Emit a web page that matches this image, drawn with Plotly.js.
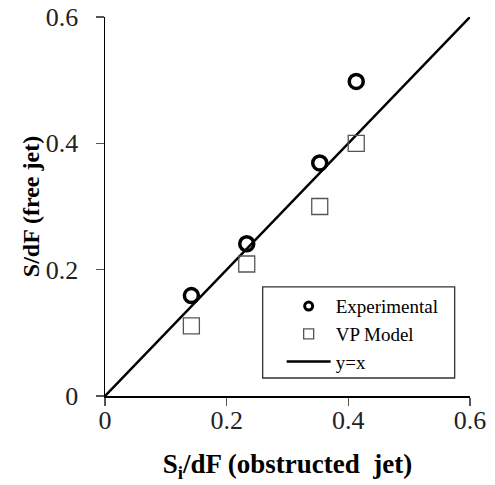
<!DOCTYPE html>
<html><head><meta charset="utf-8">
<script src="https://cdn.plot.ly/plotly-3.0.1.min.js"></script>
<style>body{margin:0;background:#fff}#chart{width:495px;height:485px}</style>
</head><body><div id="chart"></div>
<script>
const expX = [0.142, 0.233, 0.353, 0.413];
const expY = [0.159, 0.241, 0.369, 0.498];
const vpX = [0.142, 0.233, 0.353, 0.413];
const vpY = [0.111, 0.209, 0.300, 0.400];
const lineX = [0, 0.6];
const lineY = [0, 0.6];
const tickVals = [0, 0.2, 0.4, 0.6];
const tickText = ['0', '0.2', '0.4', '0.6'];

const serif = "'Liberation Serif', 'Times New Roman', serif";
const traces = [
  {x: lineX, y: lineY, mode: 'lines', name: 'y=x', type: 'scatter', showlegend: false,
   line: {color: '#000', width: 2.5}},
  {x: vpX, y: vpY, mode: 'markers', name: 'VP Model', type: 'scatter', showlegend: false,
   marker: {symbol: 'square-open', size: 16, color: '#555', line: {width: 1.3, color: '#555'}}},
  {x: expX, y: expY, mode: 'markers', name: 'Experimental', type: 'scatter', showlegend: false,
   marker: {symbol: 'circle-open', size: 14, color: '#000', line: {width: 3.5, color: '#000'}}},
  // legend entries (smaller symbols as in the reference legend)
  {x: [null], y: [null], mode: 'markers', name: 'Experimental', type: 'scatter', legendgroup: 'a',
   marker: {symbol: 'circle-open', size: 8, color: '#000', line: {width: 3, color: '#000'}}},
  {x: [null], y: [null], mode: 'markers', name: 'VP Model', type: 'scatter', legendgroup: 'b',
   marker: {symbol: 'square-open', size: 10, color: '#555', line: {width: 1.3, color: '#555'}}},
  {x: [null], y: [null], mode: 'lines', name: 'y=x', type: 'scatter', legendgroup: 'c',
   line: {color: '#000', width: 2.5}}
];
const layout = {
  width: 495, height: 485,
  margin: {l: 105, r: 25, t: 17, b: 89},
  paper_bgcolor: '#fff', plot_bgcolor: '#fff',
  font: {family: serif, color: '#000', size: 20},
  showlegend: true,
  legend: {x: 0.484, y: 0.287, xanchor: 'left', yanchor: 'top',
    bgcolor: 'rgba(0,0,0,0)', borderwidth: 0, itemwidth: 44,
    font: {family: serif, size: 19, color: '#000'},
    tracegroupgap: 10, traceorder: 'normal'},
  shapes: [{type: 'rect', xref: 'paper', yref: 'paper', x0: 0.432, x1: 0.958, y0: 0.0475, y1: 0.288,
    line: {color: '#333', width: 1.3}, fillcolor: 'rgba(0,0,0,0)', layer: 'above'}],
  xaxis: {range: [0, 0.6], tickvals: tickVals, ticktext: tickText, automargin: false,
    showgrid: false, zeroline: false, showline: true, linecolor: '#000', linewidth: 1.5,
    ticks: 'outside', ticklen: 8, tickcolor: '#555', tickwidth: 1.5, ticklabelstandoff: -8,
    tickfont: {family: serif, size: 26, color: '#222'},
    title: {text: '<b>S<sub>i</sub>/dF (obstructed  jet)</b>', font: {family: serif, size: 27, color: '#000'}, standoff: 20}},
  yaxis: {range: [0, 0.6], tickvals: tickVals, ticktext: tickText, automargin: false,
    showgrid: false, zeroline: false, showline: true, linecolor: '#000', linewidth: 1.5,
    ticks: 'outside', ticklen: 8, tickcolor: '#555', tickwidth: 1.5, ticklabelstandoff: 12,
    tickfont: {family: serif, size: 26, color: '#222'},
    title: {text: '<b>S/dF (free jet)</b>', font: {family: serif, size: 24, color: '#000'}}}
};
Plotly.newPlot('chart', traces, layout, {displayModeBar: false, staticPlot: true});
</script></body></html>
